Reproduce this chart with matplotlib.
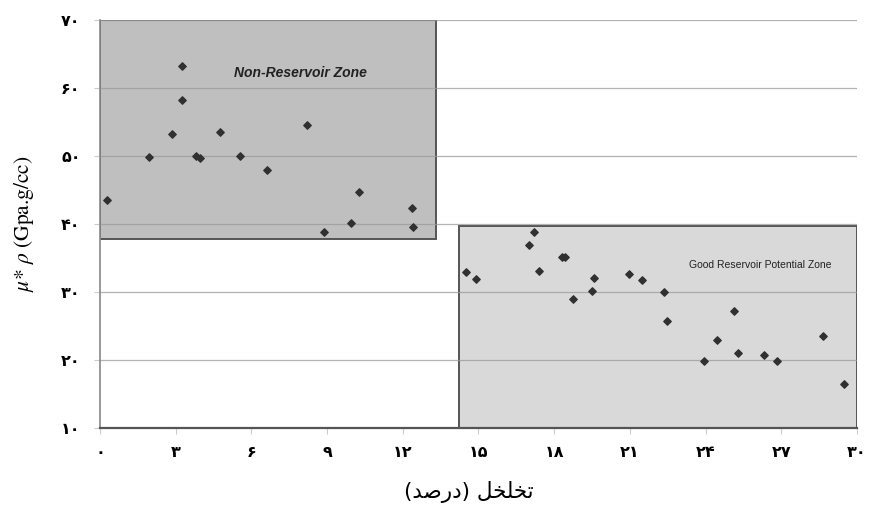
import matplotlib
matplotlib.use("Agg")
import matplotlib.pyplot as plt
from matplotlib.patches import Rectangle

# porosity (%) and mu*rho (Gpa.g/cc)
porosity = [0.26, 1.93, 2.87, 3.26, 3.26, 3.81, 3.97, 4.76, 5.53, 6.63, 8.21,
            8.89, 9.96, 10.25, 12.36, 12.40,
            14.52, 14.90, 16.99, 17.22, 17.42, 18.33, 18.45, 18.74, 19.49,
            19.60, 20.97, 21.50, 22.37, 22.47, 23.95, 24.44, 25.11, 25.27,
            26.32, 26.82, 28.64, 29.49]
mu_rho = [43.5, 49.9, 53.2, 63.3, 58.3, 50.0, 49.7, 53.5, 50.0, 48.0, 54.5,
          38.8, 40.2, 44.7, 42.4, 39.6,
          33.0, 31.9, 36.9, 38.8, 33.1, 35.15, 35.15, 29.0, 30.15,
          32.0, 32.6, 31.7, 30.0, 25.7, 19.85, 22.9, 27.25, 21.1,
          20.8, 19.85, 23.6, 16.4]

# zones: (x0, x1, y0, y1)
non_res_zone = (0, 13.3, 37.75, 70)
good_res_zone = (14.22, 30, 10, 39.7)

x_ticks = [0, 3, 6, 9, 12, 15, 18, 21, 24, 27, 30]
y_ticks = [10, 20, 30, 40, 50, 60, 70]

fa_digits = str.maketrans("0123456789", "۰۱۲۳۴۵۶۷۸۹")

def fa(n):
    return str(n).translate(fa_digits)

# x label "تخلخل (درصد)": shaped presentation forms laid out right-to-left
# (matplotlib draws left to right without bidi, so the visual order is built here)
x_label = ("(" + "\uFEAA\uFEBB\uFEAD\uFEA9" + ")" + " " +
           "\uFEDE\uFEA8\uFEE0\uFEA8\uFE97")

plt.rcParams["mathtext.fontset"] = "stix"

fig = plt.figure(figsize=(8.71, 5.07), dpi=100)
ax = fig.add_axes([0.1148, 0.1558, 0.869, 0.8047])

ax.add_patch(Rectangle((non_res_zone[0], non_res_zone[2]),
                       non_res_zone[1] - non_res_zone[0],
                       non_res_zone[3] - non_res_zone[2],
                       facecolor="#bfbfbf", edgecolor="#555555", lw=1.4, zorder=1))
ax.add_patch(Rectangle((good_res_zone[0], good_res_zone[2]),
                       good_res_zone[1] - good_res_zone[0],
                       good_res_zone[3] - good_res_zone[2],
                       facecolor="#d9d9d9", edgecolor="#555555", lw=1.4, zorder=1))

for y in y_ticks[1:]:
    ax.axhline(y, color="#9a9a9a", lw=0.9, alpha=0.75, zorder=1.5)

ax.scatter(porosity, mu_rho, marker="D", s=14, color="#303030", zorder=3)

ax.text(7.94, 62.2, "Non-Reservoir Zone", fontsize=10, fontweight="bold",
        fontstyle="italic", family=["Liberation Sans", "DejaVu Sans"],
        color="#222222", ha="center", va="center", zorder=4)
ax.text(26.15, 34.0, "Good Reservoir Potential Zone", fontsize=7.5,
        family=["Liberation Sans", "DejaVu Sans"],
        color="#222222", ha="center", va="center", zorder=4)

ax.set_xlim(0, 30)
ax.set_ylim(10, 70)
ax.set_xticks(x_ticks)
ax.set_yticks(y_ticks)
ax.set_xticklabels([fa(t) for t in x_ticks], fontsize=11.5, fontweight="bold")
ax.set_yticklabels([fa(t) for t in y_ticks], fontsize=11.5, fontweight="bold")
ax.tick_params(axis="x", length=4, color="#cccccc", pad=8)
ax.tick_params(axis="y", length=4, color="#cccccc", pad=10)

for side in ["top", "right"]:
    ax.spines[side].set_visible(False)
ax.spines["left"].set_color("#888888")
ax.spines["left"].set_linewidth(1.2)
ax.spines["bottom"].set_color("#555555")
ax.spines["bottom"].set_linewidth(1.6)

ax.set_ylabel(r"$\mu$* $\rho$ (Gpa.g/cc)", fontsize=15.5, family="STIXGeneral")
ax.yaxis.set_label_coords(-0.085, 0.5)
ax.set_xlabel(x_label, fontsize=15.5, family="DejaVu Sans")
ax.xaxis.set_label_coords(0.487, -0.13)

fig.savefig("out.png", dpi=100)
